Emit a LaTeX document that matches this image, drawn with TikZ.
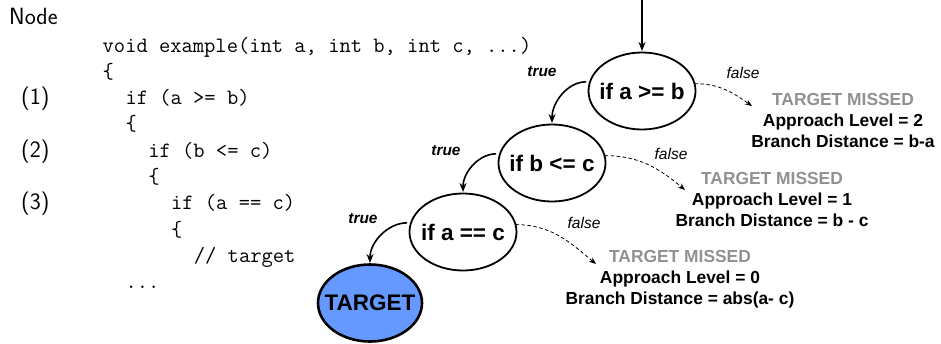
\documentclass[tikz,border=0pt]{standalone}
\usepackage{fontspec}
\newfontfamily\arial{Liberation Sans}
\usetikzlibrary{arrows.meta,shapes.geometric}
\definecolor{missgray}{RGB}{145,145,145}
\definecolor{targetblue}{RGB}{102,153,255}
\begin{document}
\begin{tikzpicture}[x=1pt,y=-1pt,
  code/.style={anchor=base west,inner sep=0,font=\fontsize{21.9}{26}\selectfont\ttfamily},
  lineno/.style={anchor=base west,inner sep=0,font=\fontsize{23.5}{26}\selectfont\sffamily},
  cond/.style={ellipse,draw,line width=1.8pt,minimum width=107pt,minimum height=77pt,
    inner sep=0,outer sep=0,font=\fontsize{22.5}{26}\selectfont\arial\bfseries},
  goal/.style={cond,line width=2.6pt,fill=targetblue,minimum width=104pt},
  branch/.style={-{Stealth[length=9pt,width=7pt]},line width=1.6pt,shorten >=1.5pt,shorten <=4pt},
  miss/.style={-{Stealth[length=7pt,width=5.5pt]},line width=0.8pt,dash pattern=on 3.5pt off 2.5pt},
  truelbl/.style={inner sep=0,font=\fontsize{15.4}{18}\selectfont\arial\bfseries\itshape},
  falselbl/.style={inner sep=0,font=\fontsize{15.5}{18}\selectfont\arial\itshape},
  result/.style={align=center,inner sep=0,font=\fontsize{17.4}{21}\selectfont\arial\bfseries}
]
\useasboundingbox (0,0) rectangle (941,343);

% source listing
\node[lineno] (hdr) at (9,24) {Node};
\node[code] (c0) at (102.5,52)    {void example(int a, int b, int c, ...)};
\node[code] (c1) at (102.5,78.3)  {\{};
\node[code] (c2) at (125.3,104.6) {if (a >= b)};
\node[code] (c3) at (125.3,130.9) {\{};
\node[code] (c4) at (148.1,157.2) {if (b <= c)};
\node[code] (c5) at (148.1,183.5) {\{};
\node[code] (c6) at (170.9,209.8) {if (a == c)};
\node[code] (c7) at (170.9,236.1) {\{};
\node[code] (c8) at (193.7,262.4) {// target};
\node[code] (c9) at (125.3,288.7) {...};
\node[lineno] (l1) at (21,104.6) {(1)};
\node[lineno] (l2) at (21,157.2) {(2)};
\node[lineno] (l3) at (21,209.8) {(3)};

% control flow
\node[cond] (n1) at (642,91)  {\makebox[0pt]{if a >= b}};
\node[cond] (n2) at (552,163) {\makebox[0pt]{if b <= c}};
\node[cond] (n3) at (463,232) {\makebox[0pt]{if a == c}};
\node[goal] (tgt) at (370,303) {\makebox[0pt]{TARGET}};

\coordinate (entry) at (642,0);
\draw[branch,shorten <=0pt] (entry) -- (n1);
\draw[branch] (n1.170) to[out=180,in=90] (n2.north);
\draw[branch] (n2.170) to[out=180,in=90] (n3.north);
\draw[branch] (n3.170) to[out=180,in=90] (tgt.north);

\node[truelbl] (t1) at (542,72)  {true};
\node[truelbl] (t2) at (446,151) {true};
\node[truelbl] (t3) at (363,219) {true};

% missed outcomes
\node[result] (r1) at (843,121) {\textcolor{missgray}{TARGET MISSED}\\Approach Level = 2\\Branch Distance = b-a};
\node[result] (r2) at (772,200) {\textcolor{missgray}{TARGET MISSED}\\Approach Level = 1\\Branch Distance = b - c};
\node[result] (r3) at (680,279) {\textcolor{missgray}{TARGET MISSED}\\Approach Level = 0\\Branch Distance = abs(a- c)};

\coordinate (m1) at (752,106);
\coordinate (m2) at (685,190);
\coordinate (m3) at (596,264);
\draw[miss] (n1.8) to[out=0,in=145] (m1);
\draw[miss] (n2.8) to[out=0,in=140] (m2);
\draw[miss] (n3.8) to[out=0,in=140] (m3);

\node[falselbl] (f1) at (743,73)  {false};
\node[falselbl] (f2) at (671,154) {false};
\node[falselbl] (f3) at (584,223) {false};
\end{tikzpicture}
\end{document}
